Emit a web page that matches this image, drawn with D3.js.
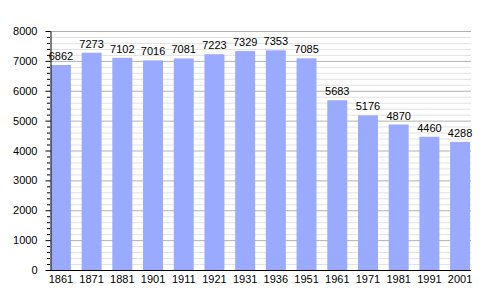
<!DOCTYPE html>
<html><head><meta charset="utf-8">
<script src="https://cdn.jsdelivr.net/npm/d3@7"></script>
<style>body{margin:0;background:#fff}svg{display:block}text{font-family:"Liberation Sans",Arial,sans-serif}</style>
</head><body><svg id="c" width="500" height="300"></svg>
<script>
const years = ["1861","1871","1881","1901","1911","1921","1931","1936","1951","1961","1971","1981","1991","2001"];
const population = [6862,7273,7102,7016,7081,7223,7329,7353,7085,5683,5176,4870,4460,4288];
const yTicks = [0,1000,2000,3000,4000,5000,6000,7000,8000];

const svg = d3.select("#c");
const L = 50, R = 471, T = 31, B = 270;
const x = d3.scaleBand().domain(years).range([L, R]).paddingInner(0.35).paddingOuter(0.03);
const y = d3.scaleLinear().domain([0, 8000]).range([B, T]);

const minor = d3.range(0, 8001, 200).filter(v => v % 1000 !== 0);
svg.append("g").selectAll("line").data(minor).join("line")
  .attr("x1", L).attr("x2", R).attr("y1", d => y(d)+0.5).attr("y2", d => y(d)+0.5)
  .attr("stroke", "#e2e2e2").attr("stroke-width", 1);
svg.append("g").selectAll("line").data(yTicks.filter(v=>v>0)).join("line")
  .attr("x1", L).attr("x2", R).attr("y1", d => y(d)+0.5).attr("y2", d => y(d)+0.5)
  .attr("stroke", "#b0b0b0").attr("stroke-width", 1);

svg.append("g").selectAll("rect").data(population).join("rect")
  .attr("x", (d,i) => x(years[i])).attr("width", x.bandwidth())
  .attr("y", d => y(d)).attr("height", d => B - y(d))
  .attr("fill", "#99aaff");

svg.append("g").selectAll("text").data(population).join("text")
  .attr("x", (d,i) => x(years[i]) + x.bandwidth()/2).attr("y", d => y(d) - 5)
  .attr("text-anchor", "middle").attr("font-size", 11).attr("fill", "#000").text(d => d);

// y axis
const ya = svg.append("g").attr("transform", `translate(${L+0.5},0)`)
  .call(d3.axisLeft(y).tickValues(yTicks).tickSize(5).tickSizeOuter(0).tickFormat(d3.format("d")));
ya.select(".domain").attr("stroke", "#000");
ya.selectAll("text").attr("font-size", 11).attr("font-family", "Liberation Sans, Arial, sans-serif").attr("fill","#000").attr("dx", "-5");
ya.selectAll(".tick line").attr("stroke", "#000");
svg.append("g").selectAll("line").data(minor).join("line")
  .attr("x1", L-3).attr("x2", L).attr("y1", d => y(d)+0.5).attr("y2", d => y(d)+0.5)
  .attr("stroke", "#000");

// x axis
const xa = svg.append("g").attr("transform", `translate(0,${B+0.5})`)
  .call(d3.axisBottom(x).tickSize(0).tickSizeOuter(0));
xa.select(".domain").attr("stroke", "#000").attr("d", `M${L},0H${R}`);
xa.selectAll("text").attr("font-size", 11).attr("font-family", "Liberation Sans, Arial, sans-serif").attr("fill","#000").attr("dy", "0.9em");
</script></body></html>
